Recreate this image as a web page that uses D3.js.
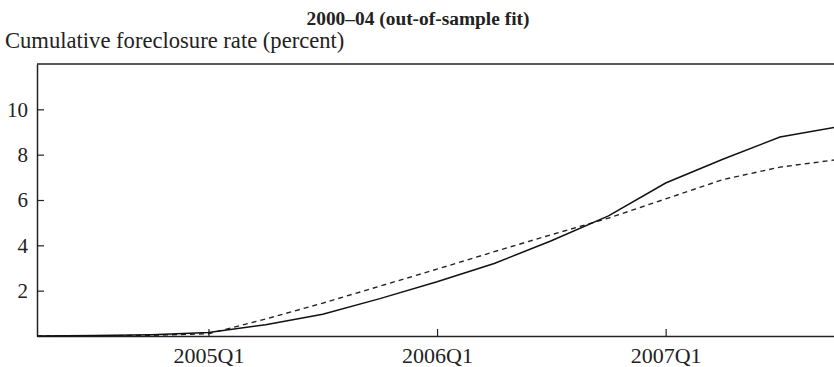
<!DOCTYPE html>
<html>
<head>
<meta charset="utf-8">
<script src="https://cdn.jsdelivr.net/npm/d3@7"></script>
<style>
  html, body { margin: 0; padding: 0; background: #fff; }
  svg { display: block; }
  text { font-family: "Liberation Serif", "DejaVu Serif", serif; fill: #222; }
</style>
</head>
<body>
<svg id="chart" width="834" height="367"></svg>
<script>
// Quarterly observation periods
const quarters = ["2004Q2","2004Q3","2004Q4","2005Q1","2005Q2","2005Q3","2005Q4",
                  "2006Q1","2006Q2","2006Q3","2006Q4","2007Q1","2007Q2","2007Q3","2007Q4"];
// Actual cumulative foreclosure rate (percent)
const actual = [0, 0.02, 0.06, 0.15, 0.5, 0.96, 1.65, 2.39, 3.2, 4.2, 5.3, 6.75, 7.8, 8.78, 9.22];
// Model fit, out of sample (percent)
const fitted = [0, 0.0, 0.03, 0.1, 0.75, 1.45, 2.2, 2.95, 3.72, 4.47, 5.2, 6.05, 6.9, 7.45, 7.78];
const xTickLabels = ["2005Q1", "2006Q1", "2007Q1"];
const yTicks = [2, 4, 6, 8, 10];

const svg = d3.select("#chart");
const plotLeft = 37, plotTop = 64, plotBottom = 336;

const x = d3.scaleLinear().domain([0, quarters.length - 1]).range([plotLeft, plotLeft + 14 * 57.15]);
const y = d3.scaleLinear().domain([0, 12]).range([plotBottom, plotTop]);

// Title and axis caption
svg.append("text")
  .attr("x", 418).attr("y", 25)
  .attr("text-anchor", "middle")
  .style("font-size", "19.4px").style("font-weight", "bold")
  .text("2000–04 (out-of-sample fit)");
svg.append("text")
  .attr("x", 5).attr("y", 48)
  .style("font-size", "22.6px")
  .text("Cumulative foreclosure rate (percent)");

// Frame: top edge
svg.append("line")
  .attr("x1", plotLeft).attr("x2", 834)
  .attr("y1", plotTop).attr("y2", plotTop)
  .attr("stroke", "#222").attr("stroke-width", 1.5);

// Left axis with inward ticks
const yAxis = svg.append("g")
  .attr("transform", `translate(${plotLeft},0)`)
  .call(d3.axisLeft(y).tickValues(yTicks).tickSizeInner(-7).tickSizeOuter(0).tickPadding(9));

// Bottom axis with inward ticks
const xAxis = svg.append("g")
  .attr("transform", `translate(0,${plotBottom})`)
  .call(d3.axisBottom(x)
    .tickValues(xTickLabels.map(l => quarters.indexOf(l)))
    .tickFormat(i => quarters[i])
    .tickSizeInner(-7).tickSizeOuter(0).tickPadding(11));

[yAxis, xAxis].forEach(g => {
  g.select(".domain").attr("stroke", "#222").attr("stroke-width", 1.5);
  g.selectAll(".tick line").attr("stroke", "#222").attr("stroke-width", 1.2);
  g.selectAll(".tick text").attr("fill", "#222")
    .style("font-family", '"Liberation Serif", "DejaVu Serif", serif');
});
yAxis.selectAll(".tick text").style("font-size", "21px");
xAxis.selectAll(".tick text").style("font-size", "22px");

const line = d3.line().x((d, i) => x(i)).y(d => y(d));

svg.append("path")
  .datum(fitted)
  .attr("d", line)
  .attr("fill", "none")
  .attr("stroke", "#222")
  .attr("stroke-width", 1.4)
  .attr("stroke-dasharray", "5,4");

svg.append("path")
  .datum(actual)
  .attr("d", line)
  .attr("fill", "none")
  .attr("stroke", "#111")
  .attr("stroke-width", 1.5);
</script>
</body>
</html>
